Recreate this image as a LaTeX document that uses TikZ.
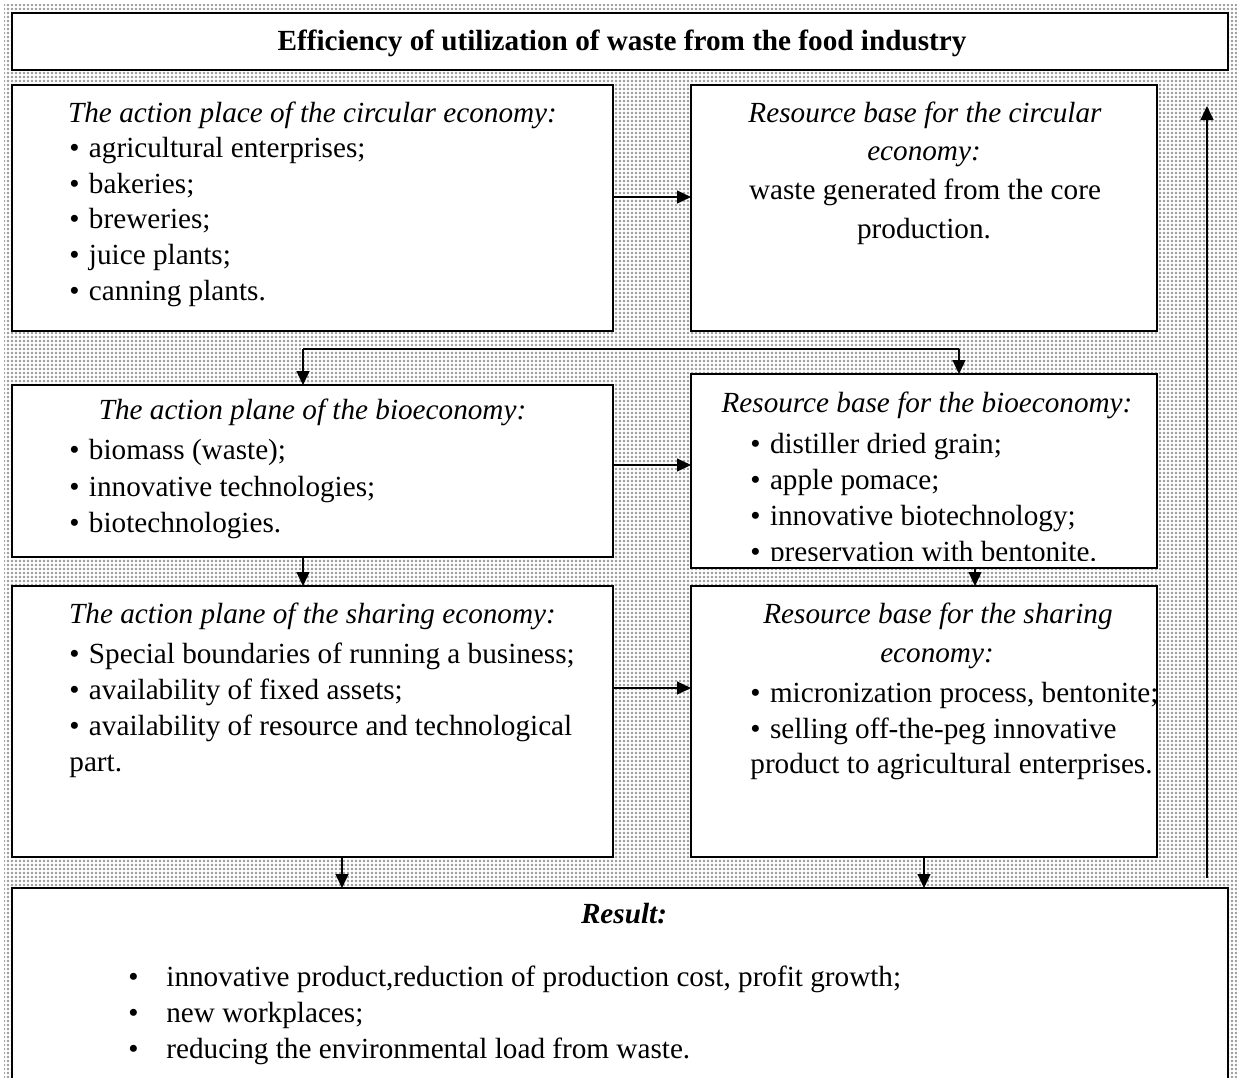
\documentclass[tikz,border=0pt]{standalone}
\usepackage{fontspec}
\setmainfont{Liberation Serif}
\usetikzlibrary{arrows.meta,patterns.meta}
\newcommand{\bl}{\makebox[9.8pt][l]{•}}
\newcommand{\rbl}{\makebox[19pt][l]{•}}
\begin{document}
\begin{tikzpicture}[x=0.5pt,y=-0.5pt,
  font=\fontsize{14.6}{17}\selectfont,
  box/.style={draw, fill=white, line width=0.7pt, inner sep=0pt, outer sep=0pt, anchor=north west},
  ln/.style={anchor=base west, inner sep=0pt},
  cl/.style={anchor=base, inner sep=0pt},
  ttl/.style={cl, font=\fontsize{14.6}{17}\selectfont\itshape},
  arr/.style={line width=0.6pt, -{Triangle[length=7pt,width=6.5pt]}}]
\useasboundingbox (0,0) rectangle (1237,1077);
% dotted background
\fill[white] (0,0) rectangle (1237,1077);
\fill[pattern={Dots[distance=2pt, radius=0.7pt]}, pattern color=gray!80] (4,4) rectangle (1237,1077);
% boxes
\node[box, minimum width=608pt, minimum height=28.5pt] (T) at (12,13) {};
\node[box, minimum width=300.5pt, minimum height=123pt] (A) at (12,85) {};
\node[box, minimum width=233pt, minimum height=123pt] (B) at (691,85) {};
\node[box, minimum width=300.5pt, minimum height=86pt] (C) at (12,385) {};
\node[box, minimum width=233pt, minimum height=97pt] (D) at (691,374) {};
\node[box, minimum width=300.5pt, minimum height=135.5pt] (E) at (12,586) {};
\node[box, minimum width=233pt, minimum height=135.5pt] (F) at (691,586) {};
\node[box, minimum width=608pt, minimum height=97pt] (R) at (12,888) {};
% title
\node[cl, font=\fontsize{14.6}{17}\selectfont\bfseries] (tt) at (622,50) {Efficiency of utilization of waste from the food industry};
% A
\node[ttl] (a0) at (312.5,122) {The action place of the circular economy:};
\node[ln] (a1) at (69,157) {\bl agricultural enterprises;};
\node[ln] (a2) at (69,193) {\bl bakeries;};
\node[ln] (a3) at (69,228) {\bl breweries;};
\node[ln] (a4) at (69,264) {\bl juice plants;};
\node[ln] (a5) at (69,300) {\bl canning plants.};
% B
\node[ttl] (b0) at (925,122) {Resource base for the circular};
\node[ttl] (b1) at (924,160) {economy:};
\node[cl] (b2) at (925,199) {waste generated from the core};
\node[cl] (b3) at (924,238) {production.};
% C
\node[ttl] (c0) at (312.5,419) {The action plane of the bioeconomy:};
\node[ln] (c1) at (69,459) {\bl biomass (waste);};
\node[ln] (c2) at (69,496) {\bl innovative technologies;};
\node[ln] (c3) at (69,532) {\bl biotechnologies.};
% D
\node[ttl] (d0) at (927,412) {Resource base for the bioeconomy:};
\node[ln] (d1) at (750,453) {\bl distiller dried grain;};
\node[ln] (d2) at (750,489) {\bl apple pomace;};
\node[ln] (d3) at (750,525) {\bl innovative biotechnology;};
\begin{scope}
\clip (691,374) rectangle (1157,560);
\node[ln] (d4) at (750,561) {\bl preservation with bentonite.};
\end{scope}
% E
\node[ttl] (e0) at (312.5,623) {The action plane of the sharing economy:};
\node[ln] (e1) at (69,663) {\bl Special boundaries of running a business;};
\node[ln] (e2) at (69,699) {\bl availability of fixed assets;};
\node[ln] (e3) at (69,735) {\bl availability of resource and technological};
\node[ln] (e4) at (69,771) {part.};
% F
\node[ttl] (f0) at (938,623) {Resource base for the sharing};
\node[ttl] (f1) at (937,662) {economy:};
\node[ln] (f2) at (750,702) {\bl micronization process, bentonite;};
\node[ln] (f3) at (750,738) {\bl selling off-the-peg innovative};
\node[ln] (f4) at (750,773) {product to agricultural enterprises.};
% Result
\node[cl, font=\fontsize{14.6}{17}\selectfont\bfseries\itshape] (r0) at (624,923) {Result:};
\node[ln] (r1) at (128,986) {\rbl innovative product,reduction of production cost, profit growth;};
\node[ln] (r2) at (128,1022) {\rbl new workplaces;};
\node[ln] (r3) at (128,1058) {\rbl reducing the environmental load from waste.};
% connectors
\coordinate (sp) at (303,349);
\coordinate (sp2) at (959,349);
\coordinate (up) at (1207,106);
\coordinate (es) at (342,0);
\coordinate (dx) at (975,0);
\draw[arr] ([yshift=5.5pt]A.east) -- ([yshift=5.5pt]A.east -| B.west);
\draw[line width=0.6pt] (sp) -- (sp2);
\draw[arr] (sp) -- (sp |- C.north);
\draw[arr] (sp2) -- (sp2 |- D.north);
\draw[arr] ([yshift=3pt]C.east) -- ([yshift=3pt]C.east -| D.west);
\draw[arr] (C.south -| sp) -- (E.north -| sp);
\draw[arr] (D.south -| dx) -- (F.north -| dx);
\draw[arr] ([yshift=16.75pt]E.east) -- ([yshift=16.75pt]E.east -| F.west);
\draw[arr] (E.south -| es) -- (R.north -| es);
\draw[arr] (F.south) -- (F.south |- R.north);
\draw[arr] ([yshift=5pt]R.north -| up) -- (up);
\end{tikzpicture}
\end{document}
